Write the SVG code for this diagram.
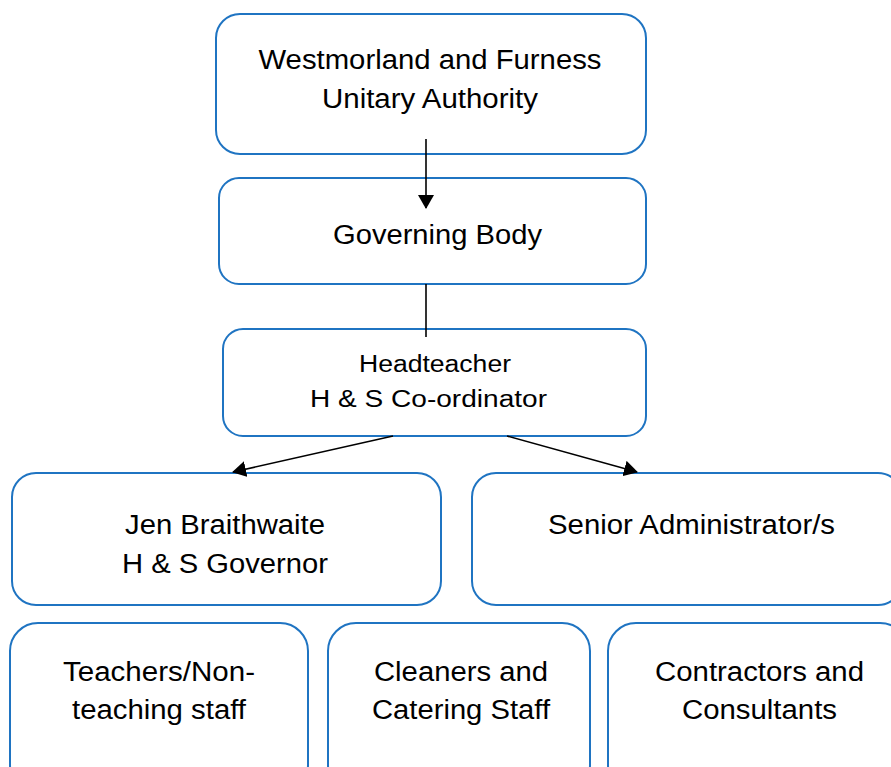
<svg xmlns="http://www.w3.org/2000/svg" width="891" height="767" viewBox="0 0 891 767">
<style>
.box{fill:#fff;stroke:#1f74c2;stroke-width:2}
.t{font-family:"Liberation Sans",Arial,sans-serif;font-size:27px;fill:#000;text-anchor:middle}
.s{font-size:23.5px}
.c{stroke:#000;stroke-width:1.6;fill:none}
</style>
<defs>
<marker id="ah" markerUnits="userSpaceOnUse" markerWidth="14" markerHeight="16" refX="13" refY="8" orient="auto">
<path d="M0,0 L14,8 L0,16 Z" fill="#000"/>
</marker>
</defs>
<rect width="891" height="767" fill="#fff"/>
<g id="n1"><rect class="box" x="216" y="14" width="430" height="140" rx="24"/>
<text class="t" x="430" y="69" textLength="343" lengthAdjust="spacingAndGlyphs">Westmorland and Furness</text>
<text class="t" x="430" y="108" textLength="216" lengthAdjust="spacingAndGlyphs">Unitary Authority</text></g>
<g id="n2"><rect class="box" x="219" y="178" width="427" height="106" rx="20"/>
<text class="t" x="437.5" y="244" textLength="209" lengthAdjust="spacingAndGlyphs">Governing Body</text></g>
<g id="n3"><rect class="box" x="223" y="329" width="423" height="107" rx="20"/>
<text class="t s" x="435" y="372" textLength="152" lengthAdjust="spacingAndGlyphs">Headteacher</text>
<text class="t s" x="428.5" y="407" textLength="237" lengthAdjust="spacingAndGlyphs">H &amp; S Co-ordinator</text></g>
<g id="n4"><rect class="box" x="12" y="473" width="429" height="132" rx="24"/>
<text class="t" x="225" y="534" textLength="200" lengthAdjust="spacingAndGlyphs">Jen Braithwaite</text>
<text class="t" x="225" y="573" textLength="206" lengthAdjust="spacingAndGlyphs">H &amp; S Governor</text></g>
<g id="n5"><rect class="box" x="472" y="473" width="430" height="132" rx="24"/>
<text class="t" x="691.5" y="534" textLength="287" lengthAdjust="spacingAndGlyphs">Senior Administrator/s</text></g>
<g id="n6"><rect class="box" x="10" y="623" width="298" height="170" rx="28"/>
<text class="t" x="159" y="681" textLength="192" lengthAdjust="spacingAndGlyphs">Teachers/Non-</text>
<text class="t" x="159" y="719" textLength="174" lengthAdjust="spacingAndGlyphs">teaching staff</text></g>
<g id="n7"><rect class="box" x="328" y="623" width="262" height="170" rx="28"/>
<text class="t" x="461" y="681" textLength="174" lengthAdjust="spacingAndGlyphs">Cleaners and</text>
<text class="t" x="461" y="719" textLength="178" lengthAdjust="spacingAndGlyphs">Catering Staff</text></g>
<g id="n8"><rect class="box" x="608" y="623" width="300" height="170" rx="28"/>
<text class="t" x="759.5" y="681" textLength="209" lengthAdjust="spacingAndGlyphs">Contractors and</text>
<text class="t" x="759.5" y="719" textLength="155" lengthAdjust="spacingAndGlyphs">Consultants</text></g>
<g id="connectors">
<line class="c" x1="426" y1="139" x2="426" y2="208" marker-end="url(#ah)"/>
<line class="c" x1="426" y1="284" x2="426" y2="337"/>
<line class="c" x1="393" y1="436" x2="233" y2="472" marker-end="url(#ah)"/>
<line class="c" x1="507" y1="436" x2="637" y2="472" marker-end="url(#ah)"/>
</g>
</svg>
